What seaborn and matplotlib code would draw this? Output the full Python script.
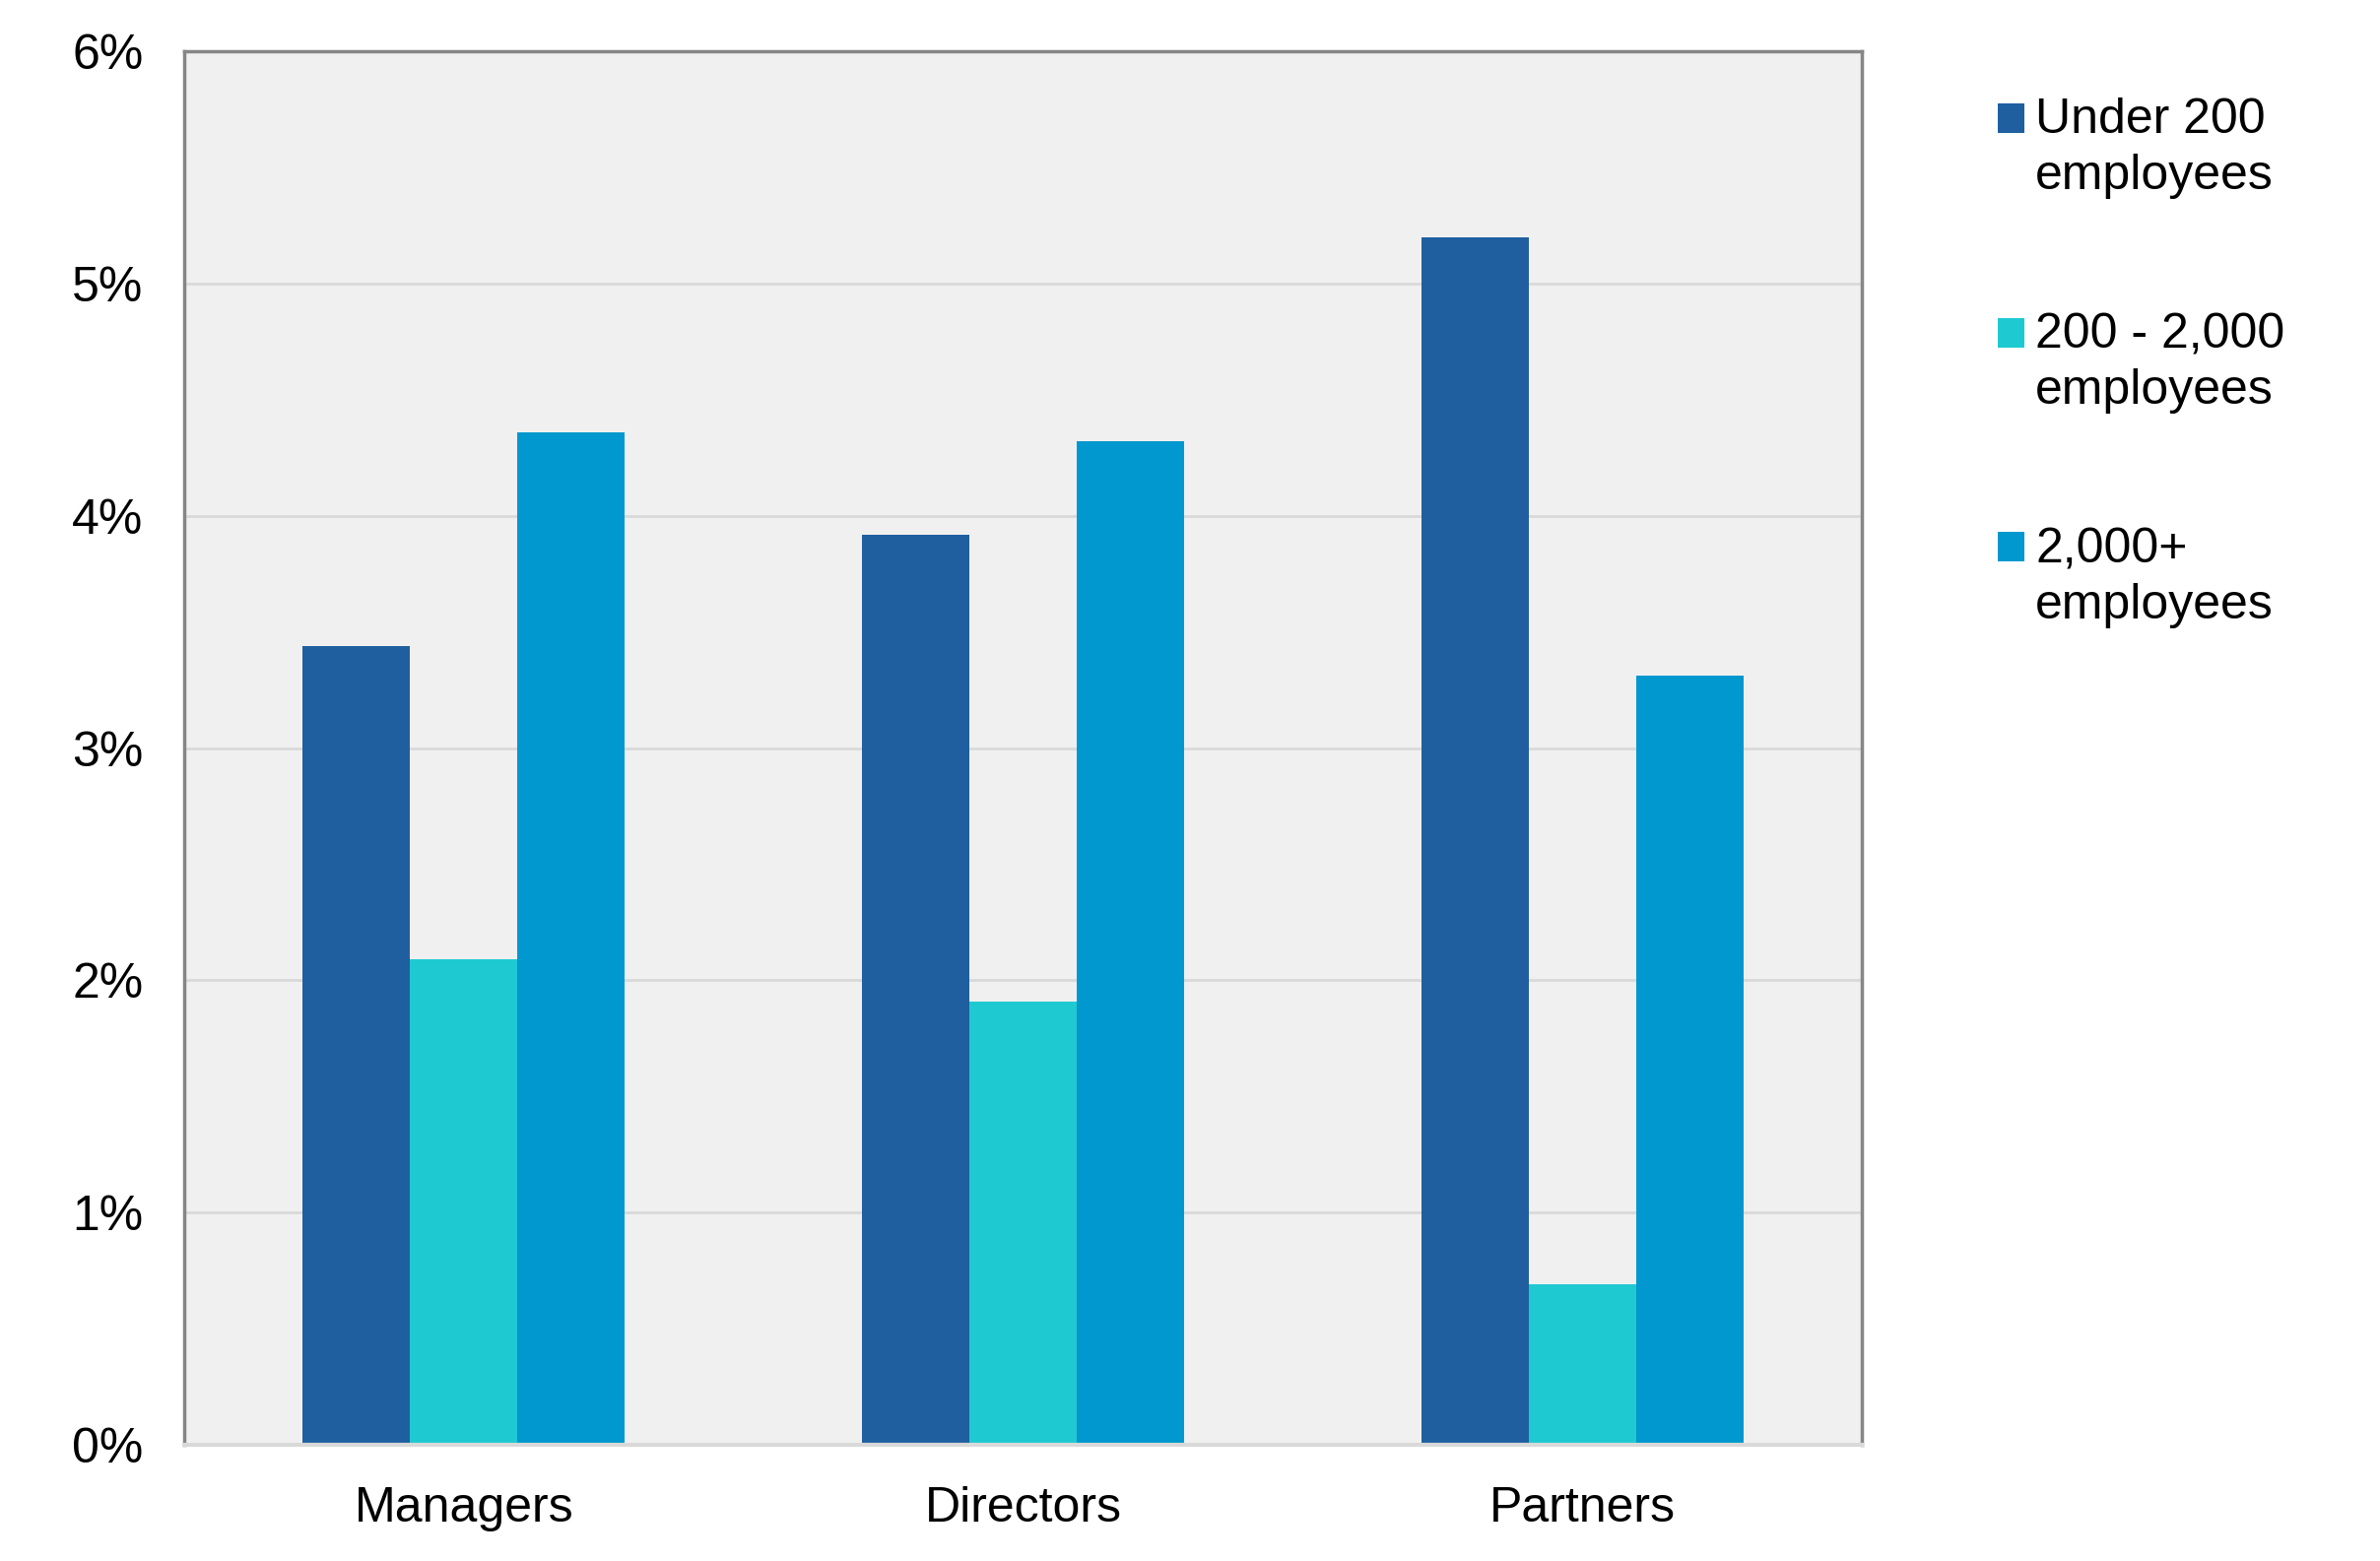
import matplotlib
matplotlib.use("Agg")
import matplotlib.pyplot as plt
import seaborn as sns
import pandas as pd
from matplotlib.ticker import FuncFormatter

# ---------------------------------------------------
# Data
# ---------------------------------------------------

roles = ["Managers", "Directors", "Partners"]
sizes = ["Under 200\nemployees", "200 - 2,000\nemployees", "2,000+\nemployees"]

under_200 = [3.44, 3.92, 5.20]
mid_size = [2.09, 1.91, 0.69]
over_2000 = [4.36, 4.32, 3.31]

colors = ["#1F5FA0", "#1FC9D2", "#0098CE"]
y_ticks = [0, 1, 2, 3, 4, 5, 6]

rows = []
for size, values in zip(sizes, [under_200, mid_size, over_2000]):
    for role, v in zip(roles, values):
        rows.append({"role": role, "size": size, "value": v})
df = pd.DataFrame(rows)

# ---------------------------------------------------
# Plot
# ---------------------------------------------------

sns.set_style("white")
plt.rcParams["font.family"] = ["Liberation Sans", "DejaVu Sans"]
plt.rcParams["text.color"] = "black"

fig = plt.figure(figsize=(24.16, 15.85), dpi=100)
ax = fig.add_axes([0.0774, 0.0744, 0.7049, 0.8928])
ax.set_facecolor("#F0F0F0")

sns.barplot(
    data=df,
    x="role",
    y="value",
    hue="size",
    order=roles,
    hue_order=sizes,
    palette=colors,
    width=0.576,
    linewidth=0,
    saturation=1,
    ax=ax
)

ax.set_ylim(0, 6)
ax.set_xlim(-0.5, 2.5)
ax.set_yticks(y_ticks)
ax.yaxis.set_major_formatter(FuncFormatter(lambda v, p: f"{v:.0f}%"))
ax.grid(axis="y", color="#D9D9D9", linewidth=2)
ax.set_axisbelow(True)

ax.set_xlabel("")
ax.set_ylabel("")
ax.tick_params(axis="both", length=0, labelsize=36, colors="black")
ax.tick_params(axis="y", pad=30)
ax.tick_params(axis="x", pad=30)

for side in ["left", "top", "right"]:
    ax.spines[side].set_color("#868686")
    ax.spines[side].set_linewidth(2.5)
ax.spines["bottom"].set_color("#D9D9D9")
ax.spines["bottom"].set_linewidth(3)

# ---------------------------------------------------
# Legend
# ---------------------------------------------------

handles, labels = ax.get_legend_handles_labels()
ax.get_legend().remove()

leg = fig.legend(
    handles,
    labels,
    loc="upper left",
    bbox_to_anchor=(0.829, 0.953),
    frameon=False,
    fontsize=36,
    labelcolor="black",
    handlelength=0.55,
    handleheight=0.55,
    handletextpad=0.22,
    labelspacing=2.3,
    borderpad=0
)

for t in leg.get_texts():
    t.set_linespacing(1.3)

# Put each square beside the first line of its label
fig.canvas.draw()
for t, p in zip(leg.get_texts(), leg.get_patches()):
    tb = t.get_window_extent()
    pb = p.get_window_extent()
    line_h = tb.height / 2
    target = tb.y1 - line_h * 0.55 + 8
    delta = target - (pb.y0 + pb.y1) / 2
    p.set_y(p.get_y() + delta * 72 / fig.dpi)

plt.savefig("out.png", dpi=100)
plt.close()
